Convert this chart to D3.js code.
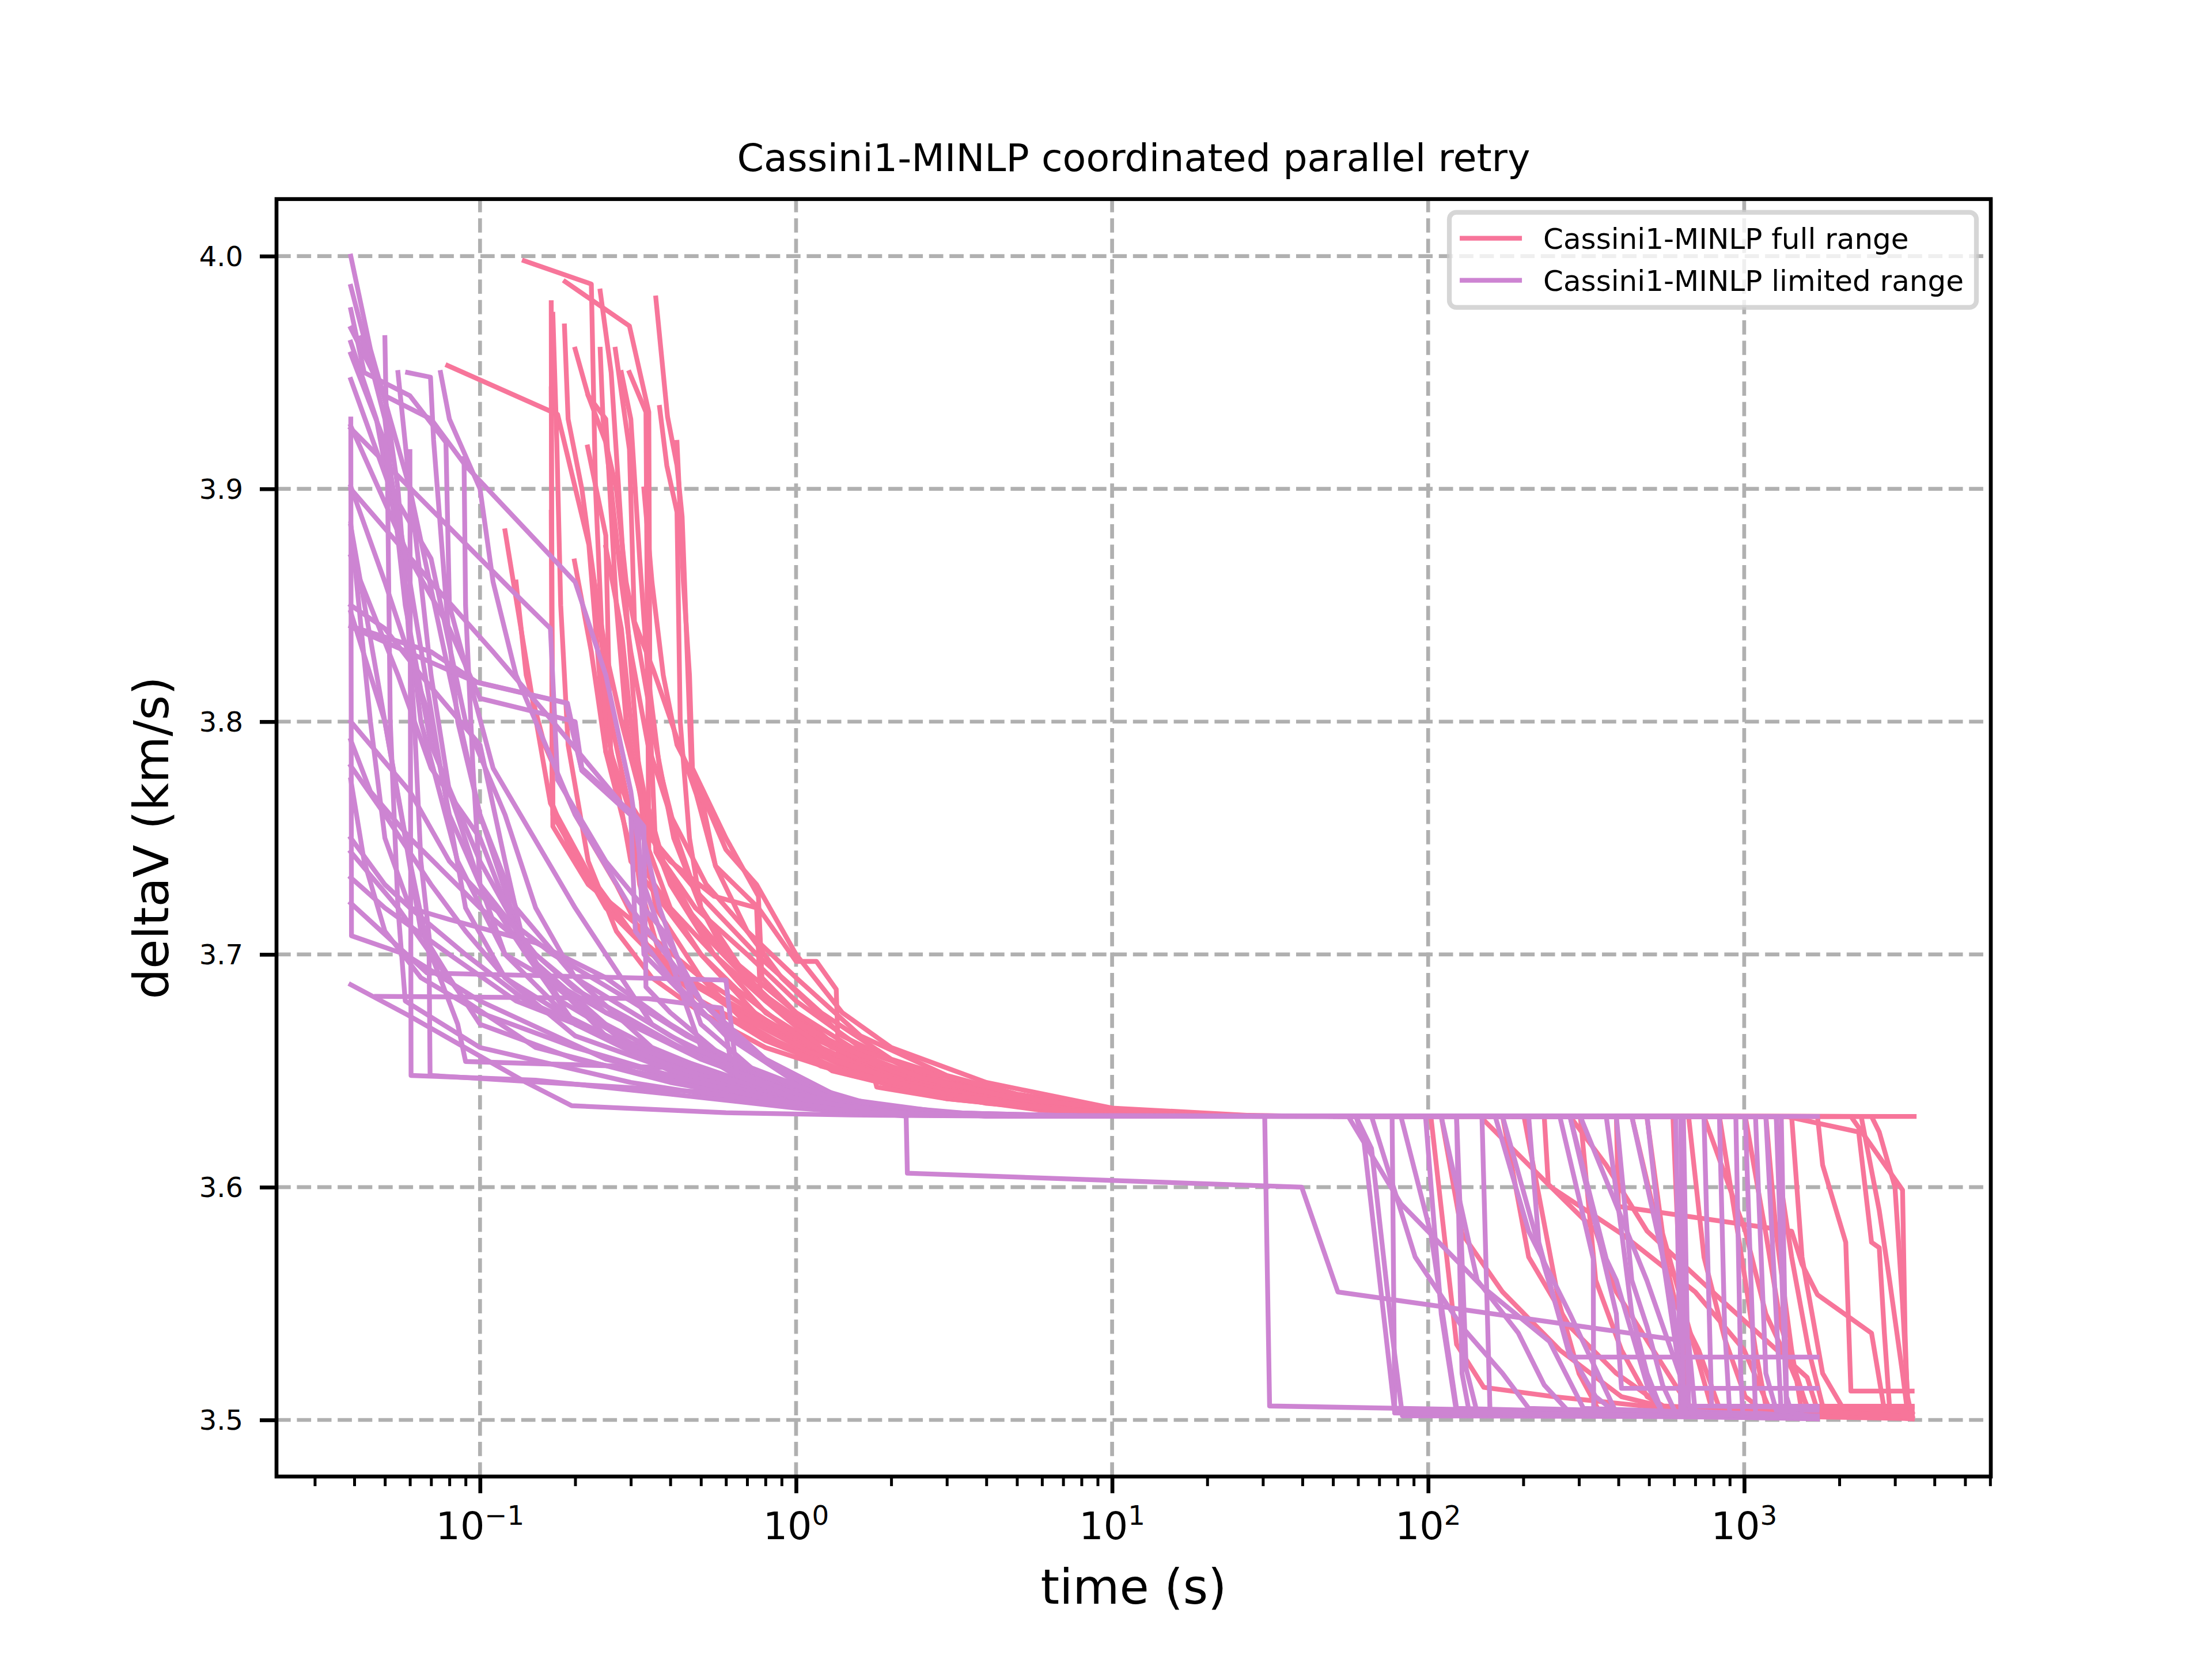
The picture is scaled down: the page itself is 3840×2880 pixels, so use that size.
<!DOCTYPE html>
<html>
<head>
<meta charset="utf-8">
<script src="https://cdn.jsdelivr.net/npm/d3@7"></script>
<style>
  html, body { margin: 0; padding: 0; background: #fff; }
  text { font-family: "DejaVu Sans", sans-serif; fill: #000; }
</style>
</head>
<body>
<svg id="chart" width="3840" height="2880"></svg>
<script>

/* Series names, in legend order */
var seriesNames = ["Cassini1-MINLP full range", "Cassini1-MINLP limited range"];

/* Full range runs: [time (s), deltaV (km/s)] */
var fullRangeRuns = [
  [[0.079,3.953],[0.176,3.932],[0.221,3.876],[0.25,3.787],[0.3,3.745],[0.4,3.72],[0.55,3.70],[0.8,3.675],[1.2,3.66],[2,3.645],[4,3.636],[10,3.6315],[20,3.6305],[102,3.6304],[123,3.5325],[150,3.514],[250,3.51],[667,3.504],[3400,3.5008]],
  [[0.138,3.998],[0.225,3.988],[0.232,3.90],[0.25,3.80],[0.3,3.74],[0.5,3.70],[0.8,3.67],[1.3,3.65],[3,3.638],[8,3.632],[20,3.6305],[233,3.6304],[240,3.6012],[339,3.5811],[394,3.555],[667,3.506],[3400,3.5015]],
  [[0.186,3.989],[0.297,3.970],[0.342,3.933],[0.345,3.80],[0.36,3.744],[0.45,3.72],[0.6,3.70],[1,3.675],[1.5,3.655],[3,3.64],[10,3.632],[25,3.6305],[281,3.6304],[366,3.6095],[493,3.5811],[867,3.5503],[1582,3.5183],[1706,3.5041],[3400,3.5041]],
  [[0.168,3.98],[0.169,3.765],[0.2,3.74],[0.3,3.71],[0.45,3.69],[0.7,3.675],[1,3.662],[2,3.645],[5,3.635],[15,3.6307],[30,3.6305],[394,3.6304],[400,3.5917],[1413,3.5811],[1524,3.5669],[1706,3.5538],[2529,3.5373],[2778,3.5041],[3400,3.5006]],
  [[0.168,3.943],[0.17,3.76],[0.25,3.72],[0.35,3.70],[0.5,3.685],[0.9,3.665],[1.5,3.65],[3,3.64],[8,3.632],[20,3.6305],[441,3.6304],[607,3.55],[718,3.53],[835,3.505],[3400,3.5024]],
  [[0.168,3.89],[0.17,3.755],[0.22,3.73],[0.3,3.715],[0.5,3.69],[0.8,3.672],[1.2,3.658],[2.5,3.643],[6,3.634],[20,3.6305],[746,3.6304],[1008,3.5811],[1171,3.5456],[1413,3.5219],[1582,3.5059],[3400,3.5059]],
  [[0.24,3.985],[0.26,3.95],[0.29,3.85],[0.31,3.80],[0.33,3.75],[0.36,3.72],[0.5,3.69],[0.7,3.67],[1.2,3.652],[2.5,3.64],[6,3.633],[20,3.6305],[1361,3.6304],[2303,3.6237],[2529,3.5763],[2675,3.574],[2778,3.537],[2884,3.5053],[3400,3.5053]],
  [[0.36,3.982],[0.392,3.931],[0.42,3.91],[0.436,3.888],[0.468,3.775],[0.5,3.769],[0.556,3.738],[0.76,3.72],[1.0,3.697],[1.16,3.697],[1.34,3.685],[1.36,3.658],[1.6,3.649],[1.77,3.647],[1.8,3.643],[3,3.638],[6,3.634],[15,3.631],[30,3.6305],[1706,3.6304],[1771,3.6095],[2096,3.5763],[2176,3.5124],[3400,3.5124]],
  [[0.12,3.882],[0.148,3.806],[0.167,3.765],[0.22,3.735],[0.3,3.71],[0.45,3.69],[0.7,3.672],[1.1,3.658],[2,3.646],[4,3.637],[12,3.631],[25,3.6305],[2176,3.6304],[3170,3.5988],[3229,3.5373],[3289,3.505],[3400,3.503]],
  [[0.199,3.869],[0.225,3.83],[0.25,3.787],[0.268,3.775],[0.35,3.75],[0.5,3.725],[0.75,3.70],[1.2,3.675],[2,3.655],[4,3.642],[8,3.634],[20,3.6305],[2345,3.6304],[2675,3.59],[2884,3.56],[3170,3.52],[3289,3.503],[3400,3.5012]],
  [[0.23,3.86],[0.26,3.80],[0.3,3.76],[0.32,3.73],[0.37,3.70],[0.5,3.68],[0.8,3.665],[1.4,3.65],[3,3.64],[7,3.633],[20,3.6305],[3450,3.6304]],
  [[0.219,3.918],[0.25,3.88],[0.259,3.787],[0.3,3.76],[0.4,3.74],[0.55,3.725],[0.75,3.72],[0.77,3.684],[1.1,3.665],[2,3.648],[5,3.636],[15,3.631],[30,3.6305],[172,3.6304],[208,3.57],[281,3.54],[394,3.52],[552,3.506],[3400,3.5012]],
  [[0.268,3.96],[0.297,3.917],[0.308,3.843],[0.354,3.822],[0.483,3.769],[0.556,3.738],[0.7,3.71],[0.9,3.69],[1.4,3.665],[2.5,3.648],[6,3.635],[20,3.6305],[303,3.6304],[339,3.56],[409,3.53],[493,3.51],[607,3.503],[3400,3.501]],
  [[0.37,3.935],[0.39,3.91],[0.42,3.89],[0.43,3.80],[0.46,3.75],[0.5,3.72],[0.6,3.70],[0.8,3.68],[1.2,3.66],[2,3.646],[5,3.636],[15,3.6306],[492,3.6304],[552,3.58],[667,3.54],[789,3.505],[3400,3.5018]],
  [[0.22,3.94],[0.25,3.92],[0.27,3.90],[0.29,3.86],[0.32,3.83],[0.36,3.79],[0.41,3.75],[0.5,3.72],[0.7,3.69],[1,3.67],[1.8,3.652],[3.5,3.64],[9,3.632],[25,3.6305],[1008,3.6304],[1171,3.58],[1310,3.54],[1582,3.505],[3400,3.501]],
  [[0.2,3.96],[0.22,3.94],[0.25,3.93],[0.27,3.85],[0.29,3.80],[0.33,3.76],[0.4,3.73],[0.55,3.70],[0.8,3.68],[1.3,3.66],[2.5,3.645],[6,3.634],[20,3.6305],[595,3.6304],[630,3.55],[667,3.506],[3400,3.5009]],
  [[0.25,3.875],[0.28,3.84],[0.3,3.80],[0.33,3.77],[0.38,3.74],[0.5,3.71],[0.75,3.685],[1.2,3.665],[2,3.65],[4,3.638],[10,3.632],[25,3.6305],[835,3.6304],[1008,3.56],[1086,3.53],[1171,3.5059],[3400,3.5059]],
  [[0.185,3.97],[0.19,3.93],[0.21,3.90],[0.23,3.86],[0.25,3.83],[0.28,3.80],[0.32,3.77],[0.38,3.74],[0.48,3.72],[0.7,3.70],[1,3.68],[1.6,3.66],[3,3.645],[7,3.635],[20,3.6307],[40,3.6305],[1171,3.6304],[1263,3.58],[1413,3.53],[1524,3.503],[3400,3.5006]],
  [[0.297,3.95],[0.335,3.933],[0.342,3.745],[0.4,3.72],[0.5,3.70],[0.65,3.685],[0.9,3.67],[1.3,3.655],[2.2,3.645],[5,3.636],[15,3.6307],[30,3.6305],[110,3.6304],[128,3.58],[172,3.555],[261,3.53],[409,3.51],[667,3.503],[3400,3.5011]],
  [[0.17,3.975],[0.175,3.92],[0.18,3.85],[0.19,3.79],[0.22,3.74],[0.27,3.71],[0.35,3.69],[0.5,3.675],[0.8,3.66],[1.5,3.648],[3,3.639],[8,3.632],[20,3.6305],[1413,3.6304],[1524,3.57],[1771,3.52],[2096,3.503],[3400,3.5005]],
  [[0.42,3.92],[0.43,3.89],[0.44,3.86],[0.46,3.82],[0.47,3.78],[0.6,3.75],[0.76,3.725],[0.78,3.69],[1,3.675],[1.5,3.66],[2.5,3.65],[5,3.64],[12,3.632],[30,3.6305],[667,3.6304],[746,3.57],[867,3.535],[1008,3.51],[1171,3.503],[3400,3.5012]],
  [[0.13,3.86],[0.14,3.82],[0.16,3.79],[0.2,3.76],[0.27,3.73],[0.35,3.70],[0.5,3.68],[0.8,3.663],[1.4,3.65],[3,3.64],[7,3.633],[20,3.6305],[2529,3.6304],[2675,3.6237],[3000,3.60],[3170,3.55],[3289,3.51],[3400,3.5006]],
  [[0.28,3.95],[0.3,3.93],[0.32,3.87],[0.34,3.82],[0.37,3.78],[0.42,3.75],[0.5,3.72],[0.65,3.695],[0.9,3.675],[1.4,3.66],[2.5,3.647],[5,3.638],[15,3.6312],[40,3.6305],[1263,3.6304],[1310,3.60],[1413,3.57],[1600,3.53],[1771,3.506],[3400,3.503]],
  [[0.33,3.90],[0.35,3.86],[0.38,3.82],[0.42,3.79],[0.5,3.77],[0.6,3.745],[0.75,3.73],[1,3.70],[1.4,3.675],[2,3.66],[4,3.645],[10,3.634],[30,3.6305],[201,3.6304],[260,3.55],[300,3.52],[350,3.503],[3400,3.5006]],
  [[0.24,3.96],[0.245,3.93],[0.26,3.90],[0.28,3.86],[0.3,3.83],[0.34,3.79],[0.4,3.76],[0.52,3.73],[0.7,3.71],[1,3.69],[1.6,3.665],[3,3.648],[6,3.637],[15,3.6313],[40,3.6305],[146,3.6304],[245,3.60],[409,3.58],[700,3.555],[1000,3.53],[1200,3.505],[3400,3.5014]]
];

/* Limited range runs: [time (s), deltaV (km/s)] */
var limitedRangeRuns = [
  [[0.039,4.000],[0.045,3.96],[0.06,3.90],[0.08,3.82],[0.1,3.76],[0.14,3.70],[0.25,3.665],[0.5,3.648],[1,3.636],[2,3.632],[6,3.6306],[30.4,3.6304],[31.5,3.506],[1700,3.5018]],
  [[0.039,3.987],[0.05,3.93],[0.058,3.85],[0.07,3.79],[0.1,3.74],[0.16,3.69],[0.3,3.66],[0.6,3.645],[1.2,3.634],[2.23,3.6305],[2.25,3.606],[39.8,3.600],[51.8,3.555],[667,3.5337],[700,3.503],[1700,3.5015]],
  [[0.039,3.977],[0.043,3.95],[0.06,3.94],[0.078,3.92],[0.08,3.85],[0.11,3.78],[0.2,3.72],[0.35,3.67],[0.7,3.645],[1.4,3.633],[4,3.6306],[55.9,3.6304],[82,3.5929],[148,3.5574],[242,3.5337],[310,3.505],[1700,3.5016]],
  [[0.039,3.969],[0.05,3.94],[0.07,3.93],[0.09,3.91],[0.2,3.86],[0.25,3.82],[0.3,3.77],[0.33,3.73],[0.5,3.66],[0.9,3.64],[1.6,3.632],[5,3.6306],[59.1,3.6304],[66.2,3.6166],[76.9,3.537],[82.9,3.5018],[1700,3.5012]],
  [[0.039,3.963],[0.047,3.93],[0.055,3.88],[0.065,3.80],[0.085,3.74],[0.12,3.70],[0.2,3.67],[0.4,3.65],[0.9,3.637],[1.8,3.632],[5,3.6306],[76.9,3.6304],[78.4,3.503],[1700,3.5006]],
  [[0.039,3.93],[0.0392,3.708],[0.058,3.70],[0.1,3.68],[0.25,3.655],[0.6,3.642],[1.3,3.633],[4,3.6306],[82,3.6304],[102,3.58],[123,3.505],[1700,3.501]],
  [[0.039,3.947],[0.052,3.90],[0.07,3.87],[0.09,3.80],[0.12,3.76],[0.15,3.72],[0.2,3.69],[0.35,3.66],[0.8,3.64],[1.5,3.633],[5,3.6306],[98.1,3.6304],[110,3.5456],[123,3.503],[1700,3.5008]],
  [[0.039,3.927],[0.06,3.87],[0.08,3.84],[0.1,3.81],[0.2,3.80],[0.21,3.78],[0.32,3.757],[0.37,3.72],[0.5,3.67],[0.9,3.64],[2,3.632],[6,3.6306],[123,3.6304],[132,3.5219],[143,3.503],[1700,3.501]],
  [[0.039,3.901],[0.05,3.86],[0.07,3.80],[0.08,3.76],[0.1,3.73],[0.14,3.70],[0.25,3.67],[0.45,3.652],[1,3.637],[2.1,3.631],[6,3.6306],[148,3.6304],[157,3.503],[1700,3.5005]],
  [[0.039,3.885],[0.045,3.80],[0.05,3.75],[0.06,3.72],[0.09,3.70],[0.14,3.68],[0.3,3.66],[0.6,3.645],[1.2,3.635],[4,3.6306],[163,3.6304],[208,3.5811],[281,3.5456],[394,3.503],[1700,3.501]],
  [[0.039,3.871],[0.055,3.82],[0.07,3.78],[0.1,3.75],[0.13,3.71],[0.18,3.68],[0.3,3.662],[0.7,3.645],[1.5,3.634],[5,3.6306],[208,3.6304],[224,3.5763],[281,3.527],[1700,3.527]],
  [[0.039,3.847],[0.05,3.80],[0.058,3.75],[0.065,3.71],[0.08,3.69],[0.1,3.67],[0.2,3.655],[0.45,3.645],[1,3.636],[3,3.6308],[261,3.6304],[333,3.5692],[334,3.503],[1700,3.5008]],
  [[0.039,3.841],[0.07,3.83],[0.0976,3.817],[0.189,3.808],[0.21,3.779],[0.308,3.76],[0.33,3.755],[0.335,3.686],[0.4,3.675],[0.6,3.655],[1,3.64],[2,3.632],[6,3.6306],[281,3.6304],[394,3.5456],[409,3.5136],[1700,3.5136]],
  [[0.039,3.792],[0.045,3.77],[0.06,3.75],[0.1,3.72],[0.15,3.70],[0.2,3.685],[0.3,3.672],[0.5,3.655],[1,3.64],[2,3.632],[6,3.6306],[303,3.6304],[492,3.56],[642,3.515],[667,3.503],[1700,3.501]],
  [[0.039,3.781],[0.05,3.76],[0.07,3.73],[0.09,3.71],[0.12,3.69],[0.18,3.675],[0.3,3.66],[0.8,3.642],[1.6,3.633],[5,3.6306],[441,3.6304],[595,3.5503],[642,3.504],[1700,3.5012]],
  [[0.039,3.750],[0.05,3.73],[0.06,3.72],[0.08,3.715],[0.15,3.705],[0.25,3.69],[0.4,3.67],[0.7,3.65],[1.4,3.635],[4,3.6306],[607,3.6304],[630,3.503],[1700,3.5008]],
  [[0.039,3.744],[0.055,3.72],[0.07,3.70],[0.085,3.67],[0.09,3.654],[0.49,3.651],[0.7,3.643],[1.2,3.636],[2.5,3.632],[7,3.6306],[642,3.6304],[667,3.5059],[1700,3.5059]],
  [[0.039,3.733],[0.05,3.72],[0.08,3.70],[0.13,3.68],[0.25,3.665],[0.5,3.65],[1,3.638],[2,3.632],[6,3.6306],[746,3.6304],[789,3.506],[1700,3.5053]],
  [[0.039,3.687],[0.059,3.674],[0.14,3.645],[0.195,3.635],[0.6,3.632],[1.5,3.631],[4,3.6306],[1008,3.6304],[1086,3.503],[1700,3.501]],
  [[0.047,3.682],[0.34,3.681],[0.58,3.677],[0.62,3.655],[1,3.64],[2,3.632],[6,3.6306],[1171,3.6304],[1310,3.503],[1700,3.5012]],
  [[0.042,3.965],[0.05,3.94],[0.055,3.90],[0.058,3.86],[0.062,3.80],[0.065,3.74],[0.07,3.70],[0.09,3.68],[0.15,3.66],[0.4,3.645],[1,3.635],[3,3.6308],[1263,3.6304],[1361,3.505],[1700,3.505]],
  [[0.05,3.965],[0.051,3.90],[0.052,3.80],[0.055,3.72],[0.058,3.68],[0.1,3.66],[0.3,3.645],[0.8,3.636],[2,3.631],[6,3.6306],[1706,3.6304]],
  [[0.059,3.95],[0.0697,3.948],[0.0713,3.921],[0.079,3.843],[0.085,3.80],[0.1,3.76],[0.13,3.72],[0.2,3.69],[0.4,3.665],[0.8,3.645],[1.6,3.633],[5,3.6306],[366,3.6304],[409,3.5811],[441,3.5456],[493,3.520],[552,3.503],[1700,3.501]],
  [[0.06,3.916],[0.0605,3.648],[0.15,3.646],[0.4,3.64],[1,3.634],[2,3.631],[6,3.6306],[172,3.6304],[233,3.566],[281,3.529],[339,3.51],[394,3.503],[1700,3.501]],
  [[0.089,3.913],[0.09,3.85],[0.095,3.78],[0.1,3.73],[0.12,3.70],[0.25,3.675],[0.5,3.656],[1,3.64],[2,3.632],[6,3.6306],[110,3.6304],[143,3.56],[193,3.5373],[233,3.515],[281,3.503],[1700,3.5012]],
  [[0.039,3.90],[0.07,3.86],[0.11,3.83],[0.17,3.80],[0.3,3.76],[0.31,3.71],[0.4,3.69],[0.6,3.665],[1,3.645],[2,3.633],[6,3.6306],[66.2,3.6304],[91,3.57],[128,3.54],[172,3.52],[208,3.505],[1700,3.5015]],
  [[0.04,3.84],[0.097,3.817],[0.187,3.808],[0.21,3.779],[0.316,3.757],[0.33,3.70],[0.5,3.675],[0.8,3.655],[1.4,3.638],[3,3.632],[8,3.6306],[493,3.6304],[552,3.57],[642,3.51],[692,3.503],[1700,3.5008]],
  [[0.039,3.926],[0.074,3.888],[0.129,3.855],[0.167,3.84],[0.176,3.775],[0.25,3.74],[0.38,3.71],[0.5,3.68],[0.7,3.66],[1.2,3.64],[2.5,3.632],[6,3.6306],[835,3.6304],[867,3.54],[900,3.503],[1700,3.5005]],
  [[0.075,3.95],[0.08,3.93],[0.1,3.90],[0.11,3.86],[0.13,3.82],[0.2,3.76],[0.3,3.72],[0.5,3.68],[0.8,3.655],[1.5,3.636],[4,3.631],[10,3.6305],[1086,3.6304],[1171,3.52],[1263,3.5041],[1700,3.5041]],
  [[0.039,3.85],[0.05,3.84],[0.065,3.82],[0.1,3.79],[0.12,3.74],[0.14,3.70],[0.2,3.67],[0.4,3.652],[0.9,3.638],[2,3.632],[6,3.6306],[394,3.6304],[441,3.56],[493,3.54],[552,3.515],[607,3.503],[1700,3.501]],
  [[0.039,3.958],[0.05,3.92],[0.06,3.86],[0.075,3.78],[0.09,3.72],[0.12,3.69],[0.2,3.665],[0.45,3.648],[1,3.636],[2.5,3.6315],[7,3.6305],[59.1,3.6304],[62.6,3.62],[78.4,3.503],[1700,3.5014]],
  [[0.039,3.80],[0.06,3.77],[0.08,3.74],[0.11,3.72],[0.17,3.70],[0.3,3.68],[0.45,3.665],[0.7,3.652],[1.3,3.638],[3,3.632],[8,3.6306],[123,3.6304],[128,3.52],[135,3.503],[1700,3.5009]],
  [[0.039,3.884],[0.05,3.80],[0.06,3.74],[0.069,3.70],[0.0695,3.648],[0.49,3.641],[1,3.635],[2,3.6315],[6,3.6306],[281,3.6304],[366,3.5692],[394,3.56],[493,3.515],[552,3.503],[1700,3.501]],
  [[0.055,3.95],[0.06,3.90],[0.065,3.86],[0.07,3.82],[0.08,3.77],[0.1,3.73],[0.15,3.70],[0.25,3.675],[0.5,3.655],[1,3.64],[2,3.632],[6,3.6306],[630,3.6304],[642,3.503],[1700,3.5007]],
  [[0.039,3.722],[0.068,3.692],[0.6,3.689],[0.65,3.648],[1,3.638],[2,3.632],[6,3.6306],[941,3.6304],[975,3.52],[990,3.503],[1700,3.5006]],
  [[0.039,3.775],[0.043,3.74],[0.05,3.71],[0.065,3.69],[0.1,3.675],[0.2,3.66],[0.4,3.648],[0.8,3.638],[1.6,3.632],[5,3.6306],[1310,3.6304],[1361,3.51],[1413,3.503],[1700,3.5011]]
];

/* Axis ticks */
var xTickValues = [0.1, 1, 10, 100, 1000];
var xTickExponents = ["\u22121", "0", "1", "2", "3"];
var yTickValues = [3.5, 3.6, 3.7, 3.8, 3.9, 4.0];
var xDomain = [0.0227, 6030];
var yDomain = [3.4757, 4.0245];

(function() {

  /* Styles */
  var fullColor = "#f7759a",
      limitedColor = "#cd84d2",
      gridColor = "#b0b0b0",
      lineWidth = 8.33,
      axisWidth = 6.67;

  var width = 3840, height = 2880,
      margin = {top: 345.6, right: 384, bottom: 316.8, left: 480};

  var svg = d3.select("#chart");

  var plotLeft = margin.left,
      plotRight = width - margin.right,
      plotTop = margin.top,
      plotBottom = height - margin.bottom;

  var x = d3.scaleLog().domain(xDomain).range([plotLeft, plotRight]);
  var y = d3.scaleLinear().domain(yDomain).range([plotBottom, plotTop]);

  /* Grid (below the lines) */
  var grid = svg.append("g").attr("class", "grid")
    .attr("stroke", gridColor)
    .attr("stroke-width", axisWidth)
    .attr("stroke-dasharray", "24.7 10.7");

  grid.selectAll(".gx").data(xTickValues).enter().append("line")
    .attr("x1", (d) => x(d)).attr("x2", (d) => x(d))
    .attr("y1", plotBottom).attr("y2", plotTop);

  grid.selectAll(".gy").data(yTickValues).enter().append("line")
    .attr("x1", plotLeft).attr("x2", plotRight)
    .attr("y1", (d) => y(d)).attr("y2", (d) => y(d));

  /* Runs */
  var line = d3.line()
    .x((d) => x(d[0]))
    .y((d) => y(d[1]));

  svg.append("defs").append("clipPath").attr("id", "plot-clip")
    .append("rect")
    .attr("x", plotLeft).attr("y", plotTop)
    .attr("width", plotRight - plotLeft).attr("height", plotBottom - plotTop);

  var runs = svg.append("g").attr("clip-path", "url(#plot-clip)")
    .attr("fill", "none")
    .attr("stroke-width", lineWidth)
    .attr("stroke-linejoin", "round")
    .attr("stroke-linecap", "square");

  runs.selectAll(".full").data(fullRangeRuns).enter().append("path")
    .attr("class", "full")
    .attr("stroke", fullColor)
    .attr("d", line);

  runs.selectAll(".limited").data(limitedRangeRuns).enter().append("path")
    .attr("class", "limited")
    .attr("stroke", limitedColor)
    .attr("d", line);

  /* Spines */
  svg.append("rect")
    .attr("x", plotLeft).attr("y", plotTop)
    .attr("width", plotRight - plotLeft).attr("height", plotBottom - plotTop)
    .attr("fill", "none")
    .attr("stroke", "#000")
    .attr("stroke-width", axisWidth);

  /* X axis: major and minor ticks */
  var xMinor = x.ticks().filter((d) => xTickValues.indexOf(d) < 0 && d >= xDomain[0] && d <= xDomain[1]);

  function styleTicks(g, w) {
    g.select(".domain").remove();
    g.selectAll("line").attr("stroke", "#000").attr("stroke-width", w);
  }

  svg.append("g")
    .attr("transform", `translate(0,${plotBottom})`)
    .call(d3.axisBottom(x).tickValues(xMinor).tickSize(16.7).tickFormat(""))
    .call((g) => styleTicks(g, 5));

  svg.append("g")
    .attr("transform", `translate(0,${plotBottom})`)
    .call(d3.axisBottom(x).tickValues(xTickValues).tickSize(29).tickFormat(""))
    .call((g) => styleTicks(g, axisWidth));

  var xLabels = svg.append("g").attr("class", "x-labels");
  xTickValues.forEach(function(d, i) {
    var t = xLabels.append("text")
      .attr("x", x(d))
      .attr("y", plotBottom + 109)
      .attr("text-anchor", "middle")
      .attr("font-size", 66.7);
    t.append("tspan").text("10");
    t.append("tspan")
      .attr("dy", -25)
      .attr("font-size", 46.7)
      .text(xTickExponents[i]);
  });

  /* Y axis */
  svg.append("g")
    .attr("transform", `translate(${plotLeft},0)`)
    .call(d3.axisLeft(y).tickValues(yTickValues).tickSize(29).tickFormat(""))
    .call((g) => styleTicks(g, axisWidth));

  svg.append("g").attr("class", "y-labels")
    .selectAll("text").data(yTickValues).enter().append("text")
    .attr("x", plotLeft - 58)
    .attr("y", (d) => y(d))
    .attr("dy", "0.36em")
    .attr("text-anchor", "end")
    .attr("font-size", 48)
    .text((d) => d3.format(".1f")(d));

  /* Axis titles */
  svg.append("text")
    .attr("x", (plotLeft + plotRight) / 2)
    .attr("y", 2784)
    .attr("text-anchor", "middle")
    .attr("font-size", 83.3)
    .text("time (s)");

  svg.append("text")
    .attr("transform", `translate(292,${(plotTop + plotBottom) / 2}) rotate(-90)`)
    .attr("text-anchor", "middle")
    .attr("font-size", 83.3)
    .text("deltaV (km/s)");

  svg.append("text")
    .attr("x", (plotLeft + plotRight) / 2)
    .attr("y", 297)
    .attr("text-anchor", "middle")
    .attr("font-size", 66.7)
    .text("Cassini1-MINLP coordinated parallel retry");

  /* Legend */
  var legendFont = 50,
      legendRight = plotRight - 25,
      legendTop = plotTop + 25,
      legendColors = [fullColor, limitedColor];

  var legend = svg.append("g").attr("class", "legend");
  var box = legend.append("rect");
  var items = legend.selectAll(".item").data(seriesNames).enter().append("g");

  items.append("text")
    .attr("font-size", legendFont)
    .attr("y", (d, i) => legendTop + 61 + i * 73)
    .text((d) => d);

  var textLen = d3.max(items.selectAll("text").nodes(), (n) => n.getComputedTextLength());
  var boxW = 18 + 108 + 37 + textLen + 22,
      boxLeft = legendRight - boxW;

  box.attr("x", boxLeft).attr("y", legendTop - 2)
    .attr("width", boxW).attr("height", 165)
    .attr("rx", 12).attr("ry", 12)
    .attr("fill", "#fff").attr("fill-opacity", 0.8)
    .attr("stroke", "#cccccc").attr("stroke-opacity", 0.8)
    .attr("stroke-width", 8.3);

  items.select("text").attr("x", boxLeft + 18 + 108 + 37);

  items.append("line")
    .attr("x1", boxLeft + 18).attr("x2", boxLeft + 18 + 108)
    .attr("y1", (d, i) => legendTop + 43 + i * 73)
    .attr("y2", (d, i) => legendTop + 43 + i * 73)
    .attr("stroke", (d, i) => legendColors[i])
    .attr("stroke-width", lineWidth);

})();

</script>
</body>
</html>
